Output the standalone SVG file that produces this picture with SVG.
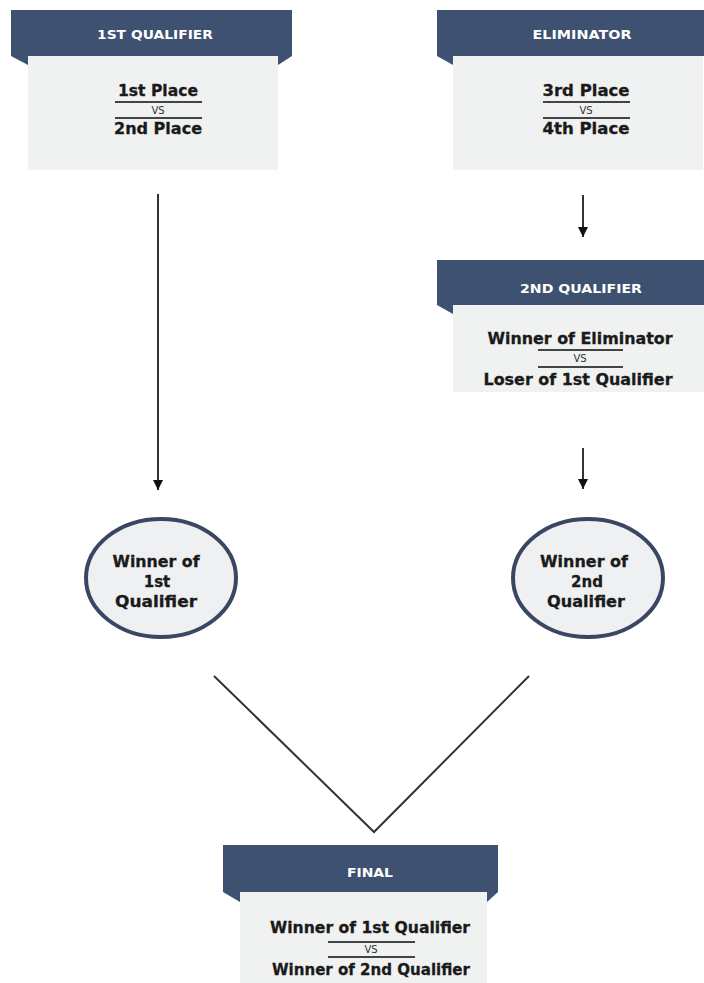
<svg xmlns="http://www.w3.org/2000/svg" width="704" height="983" viewBox="0 0 704 983">
<style>
.banner{fill:#3f5170}
.body{fill:#f0f1f1}
.title{font-family:"DejaVu Sans",sans-serif;font-weight:bold;font-size:12.5px;fill:#ffffff;text-anchor:middle}
.t{font-family:"DejaVu Sans",sans-serif;font-weight:bold;font-size:15px;fill:#1a1a1a;text-anchor:middle;stroke:#1a1a1a;stroke-width:0.3}
.vs{font-family:"DejaVu Sans",sans-serif;font-size:10px;fill:#333;text-anchor:middle}
.rule{stroke:#444;stroke-width:2}
.circ{fill:#eef0f2;stroke:#3a4763;stroke-width:4}
.conn{stroke:#333;stroke-width:2;fill:none}
</style>
<defs>
<marker id="ah" viewBox="0 0 10 10" refX="10" refY="5" markerWidth="10" markerHeight="10" markerUnits="userSpaceOnUse" orient="auto">
<path d="M0,0 L10,5 L0,10 Z" fill="#111"/>
</marker>
</defs>
<rect width="704" height="983" fill="#ffffff"/>

<g id="q1">
<rect class="body" x="28" y="56" width="250" height="114"/>
<rect class="banner" x="11" y="10" width="281" height="46"/>
<path class="banner" d="M11,56 L28,56 L28,65 Z"/>
<path class="banner" d="M292,56 L278,56 L278,65 Z"/>
<text class="title" x="155" y="39" textLength="116" lengthAdjust="spacingAndGlyphs">1ST QUALIFIER</text>
<text class="t" x="158" y="96" textLength="80" lengthAdjust="spacingAndGlyphs">1st Place</text>
<line class="rule" x1="115" y1="102" x2="202" y2="102"/>
<text class="vs" x="158" y="114">VS</text>
<line class="rule" x1="115" y1="118" x2="202" y2="118"/>
<text class="t" x="158" y="134" textLength="88" lengthAdjust="spacingAndGlyphs">2nd Place</text>
</g>

<g id="elim">
<rect class="body" x="453" y="56" width="250" height="114"/>
<rect class="banner" x="437" y="10" width="281" height="46"/>
<path class="banner" d="M437,56 L453,56 L453,65 Z"/>
<text class="title" x="582" y="39" textLength="99" lengthAdjust="spacingAndGlyphs">ELIMINATOR</text>
<text class="t" x="586" y="96" textLength="87" lengthAdjust="spacingAndGlyphs">3rd Place</text>
<line class="rule" x1="543" y1="102" x2="630" y2="102"/>
<text class="vs" x="586" y="114">VS</text>
<line class="rule" x1="543" y1="118" x2="630" y2="118"/>
<text class="t" x="586" y="134" textLength="87" lengthAdjust="spacingAndGlyphs">4th Place</text>
</g>

<g id="q2">
<rect class="body" x="453" y="305" width="251" height="87"/>
<rect class="banner" x="437" y="260" width="281" height="45"/>
<path class="banner" d="M437,305 L453,305 L453,314 Z"/>
<text class="title" x="581" y="293" textLength="122" lengthAdjust="spacingAndGlyphs">2ND QUALIFIER</text>
<text class="t" x="580" y="344" textLength="185" lengthAdjust="spacingAndGlyphs">Winner of Eliminator</text>
<line class="rule" x1="538" y1="350" x2="623" y2="350"/>
<text class="vs" x="580" y="362">VS</text>
<line class="rule" x1="538" y1="367" x2="623" y2="367"/>
<text class="t" x="578" y="385" textLength="189" lengthAdjust="spacingAndGlyphs">Loser of 1st Qualifier</text>
</g>

<g id="w1">
<ellipse class="circ" cx="161" cy="578" rx="75" ry="59"/>
<text class="t" x="156" y="567" textLength="87" lengthAdjust="spacingAndGlyphs">Winner of</text>
<text class="t" x="157" y="587">1st</text>
<text class="t" x="156" y="607" textLength="82" lengthAdjust="spacingAndGlyphs">Qualifier</text>
</g>

<g id="w2">
<ellipse class="circ" cx="588" cy="578" rx="75" ry="59"/>
<text class="t" x="584" y="567" textLength="88" lengthAdjust="spacingAndGlyphs">Winner of</text>
<text class="t" x="587" y="587">2nd</text>
<text class="t" x="586" y="607" textLength="78" lengthAdjust="spacingAndGlyphs">Qualifier</text>
</g>

<g id="final">
<rect class="body" x="240" y="892" width="247" height="91"/>
<rect class="banner" x="223" y="845" width="275" height="47"/>
<path class="banner" d="M223,892 L240,892 L240,902 Z"/>
<path class="banner" d="M498,892 L487,892 L487,902 Z"/>
<text class="title" x="370" y="877" textLength="46" lengthAdjust="spacingAndGlyphs">FINAL</text>
<text class="t" x="370" y="933" textLength="200" lengthAdjust="spacingAndGlyphs">Winner of 1st Qualifier</text>
<line class="rule" x1="328" y1="942" x2="415" y2="942"/>
<text class="vs" x="371" y="953">VS</text>
<line class="rule" x1="328" y1="957" x2="415" y2="957"/>
<text class="t" x="371" y="975" textLength="198" lengthAdjust="spacingAndGlyphs">Winner of 2nd Qualifier</text>
</g>

<g id="connectors">
<line class="conn" x1="158" y1="194" x2="158" y2="490" marker-end="url(#ah)"/>
<line class="conn" x1="583" y1="195" x2="583" y2="237" marker-end="url(#ah)"/>
<line class="conn" x1="583" y1="448" x2="583" y2="489" marker-end="url(#ah)"/>
<polyline class="conn" points="214,676 374,832 529,676"/>
</g>
</svg>
